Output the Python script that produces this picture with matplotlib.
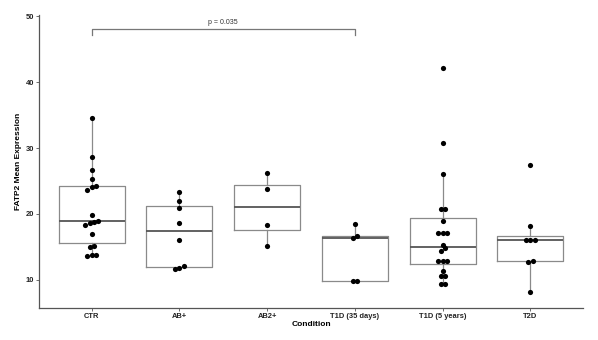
import matplotlib
matplotlib.use('Agg')
import matplotlib.pyplot as plt
import numpy as np

# values
conditions = ['CTR', 'AB+', 'AB2+', 'T1D (35 days)', 'T1D (5 years)', 'T2D']
ctr = [34.6, 28.7, 26.6, 25.3, 23.7, 24.1, 24.3, 19.9, 18.3, 18.6, 18.8, 19.0,
       16.9, 15.0, 15.2, 13.6, 13.7, 13.7]
ab = [23.3, 22.0, 20.9, 18.7, 16.1, 11.7, 11.8, 12.1]
ab2 = [26.2, 23.8, 18.3, 15.2]
t1d_35 = [18.5, 16.4, 16.7, 9.8, 9.9]
t1d_5 = [42.2, 30.7, 26.1, 20.8, 20.8, 19.0, 17.1, 17.1, 17.1, 15.3, 14.8, 14.4,
         12.8, 12.8, 12.8, 11.4, 10.6, 10.6, 9.3, 9.3]
t2d = [27.5, 18.1, 16.1, 16.1, 16.1, 12.7, 12.9, 8.2]
groups = [ctr, ab, ab2, t1d_35, t1d_5, t2d]

p_label = 'p = 0.035'
p_pair = (1, 4)
p_height = 48.1

plt.rcParams['font.family'] = ['Liberation Sans', 'DejaVu Sans']

fig = plt.figure(figsize=(5.98, 3.4), dpi=100)
ax = fig.add_axes([0.0652, 0.0935, 0.9098, 0.8625])

positions = np.arange(1, len(groups) + 1)
ax.boxplot(groups, positions=positions, widths=0.75, whis=1.5, showfliers=False,
           boxprops=dict(color='#8a8a8a', linewidth=0.9),
           whiskerprops=dict(color='#8a8a8a', linewidth=0.9),
           capprops=dict(linewidth=0),
           medianprops=dict(color='#555555', linewidth=1.3),
           zorder=1)

# stack near-equal values side by side like a dotplot
step = 0.048
for pos, vals in zip(positions, groups):
    vals = np.sort(np.array(vals))
    clusters = []
    for v in vals:
        if clusters and v - clusters[-1][0] <= 0.75:
            clusters[-1].append(v)
        else:
            clusters.append([v])
    for cl in clusters:
        n = len(cl)
        xs = pos + (np.arange(n) - (n - 1) / 2) * step
        ax.scatter(xs, cl, s=14, color='black', zorder=3, linewidths=0)

# significance bracket
x1, x2 = p_pair
ax.plot([x1, x1, x2, x2], [p_height - 0.9, p_height, p_height, p_height - 0.9],
        color='#777777', linewidth=0.9)
ax.text((x1 + x2) / 2, p_height + 0.4, p_label, ha='center', va='bottom',
        fontsize=5, color='#333333')

ax.set_xlim(0.4, 6.6)
ax.set_ylim(5.7, 50.2)
ax.set_yticks([10, 20, 30, 40, 50])
ax.set_xticks(positions)
ax.set_xticklabels(conditions)

for side in ['top', 'right']:
    ax.spines[side].set_visible(False)
for side in ['left', 'bottom']:
    ax.spines[side].set_color('#555555')
    ax.spines[side].set_linewidth(0.9)

ax.tick_params(axis='both', length=2, width=0.6, color='#555555', pad=1.5,
               labelsize=5.4, labelcolor='#222222')
for lab in ax.get_xticklabels() + ax.get_yticklabels():
    lab.set_fontweight('bold')

ax.set_xlabel('Condition', fontsize=6, fontweight='bold', labelpad=1)
ax.set_ylabel('FATP2 Mean Expression', fontsize=6, fontweight='bold')
ax.yaxis.set_label_coords(-0.031, 0.5)

fig.savefig('out.png', dpi=100)
